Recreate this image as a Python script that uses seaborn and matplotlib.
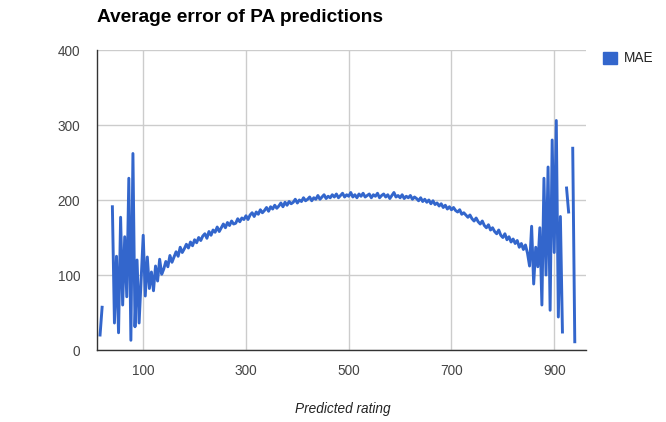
import numpy as np
import pandas as pd
import matplotlib
matplotlib.use('Agg')
import matplotlib.pyplot as plt
from matplotlib.patches import Patch
import seaborn as sns

# predicted rating, one reading every 4 points
rating = np.arange(16, 944, 4)

# mean absolute error (nan = no data / gap in line)
mae = [
    # 16 - 96
    20, 57, np.nan, np.nan, np.nan, np.nan, 191, 36, 125, 23,
    177, 60, 151, 71, 229, 13, 262, 31, 120, 36, 95,
    # 100 - 296
    153, 72, 124, 82, 104, 79, 112, 92, 121, 101,
    108, 118, 111, 126, 117, 124, 131, 125, 137, 130,
    135, 141, 136, 144, 139, 147, 143, 150, 146, 152,
    155, 149, 158, 153, 160, 157, 164, 158, 163, 168,
    163, 170, 166, 172, 168, 169, 175, 171, 176, 174,
    # 300 - 496
    179, 174, 180, 183, 178, 184, 181, 187, 183, 186,
    190, 185, 191, 188, 193, 189, 192, 196, 191, 197,
    193, 198, 195, 197, 201, 196, 200, 198, 203, 199,
    201, 204, 199, 203, 201, 206, 201, 204, 207, 202,
    205, 203, 207, 204, 208, 203, 206, 209, 204, 207,
    # 500 - 696
    205, 210, 204, 207, 203, 208, 205, 209, 204, 206,
    208, 203, 207, 205, 209, 203, 206, 208, 204, 207,
    202, 206, 210, 204, 206, 203, 207, 202, 205, 203,
    206, 201, 204, 202, 199, 203, 198, 201, 197, 200,
    195, 199, 194, 196, 192, 195, 190, 193, 188, 191,
    # 700 - 848
    187, 190, 186, 184, 187, 181, 183, 180, 177, 180,
    175, 172, 176, 171, 168, 172, 166, 163, 167, 160,
    163, 158, 155, 160, 153, 150, 155, 147, 151, 144,
    148, 142, 146, 137, 142, 134, 140, 129,
    # 852 - 940
    112, 165, 88, 137, 111, 163, 60, 229, 100, 244,
    53, 280, 130, 306, 44, 178, 24, np.nan, 216, 184,
    np.nan, 269, 11,
]
assert len(mae) == len(rating)

x_ticks = [100, 300, 500, 700, 900]
y_ticks = [0, 100, 200, 300, 400]

df = pd.DataFrame({'rating': rating, 'MAE': mae})
# split the line where values are missing
df['seg'] = df['MAE'].isna().cumsum()
df = df.dropna()

blue = '#3366CC'
plt.rcParams['font.family'] = ['Liberation Sans', 'DejaVu Sans']

fig = plt.figure(figsize=(6.66, 4.22), dpi=100)
ax = fig.add_axes([0.1456, 0.1706, 0.7344, 0.7109])

sns.lineplot(data=df, x='rating', y='MAE', units='seg', estimator=None,
             color=blue, linewidth=2.1, ax=ax, legend=False)

ax.set_xlim(10, 962)
ax.set_ylim(0, 400)
ax.set_xticks(x_ticks)
ax.set_yticks(y_ticks)
ax.grid(True, color='#CCCCCC', linewidth=1)
ax.set_axisbelow(True)
ax.tick_params(length=0, labelsize=9.8, labelcolor='#444444')
ax.tick_params(axis='x', pad=10)
ax.tick_params(axis='y', pad=12)
for s in ['top', 'right']:
    ax.spines[s].set_visible(False)
for s in ['left', 'bottom']:
    ax.spines[s].set_color('#333333')
    ax.spines[s].set_linewidth(1)
ax.set_xlabel('')
ax.set_ylabel('')

fig.text(0.1456, 1 - 22 / 422, 'Average error of PA predictions',
         fontsize=13.8, fontweight='bold', color='#000000', va='baseline')
fig.text(343 / 666, 1 - 409 / 422, 'Predicted rating', fontsize=9.8,
         style='italic', color='#222222', ha='center', va='center')
# y title sits mostly off the left edge, as in the original
fig.text(-0.012, 1 - 190 / 422, 'Error', fontsize=9.8, style='italic',
         color='#222222', rotation=90, ha='center', va='center')

fig.legend(handles=[Patch(color=blue, label='MAE')], loc='upper left',
           bbox_to_anchor=(598 / 666, 1 - 46 / 422), frameon=False,
           fontsize=9.8, handlelength=1, handleheight=1, handletextpad=0.5,
           borderaxespad=0, labelcolor='#222222')

fig.savefig('out.png', dpi=100)
